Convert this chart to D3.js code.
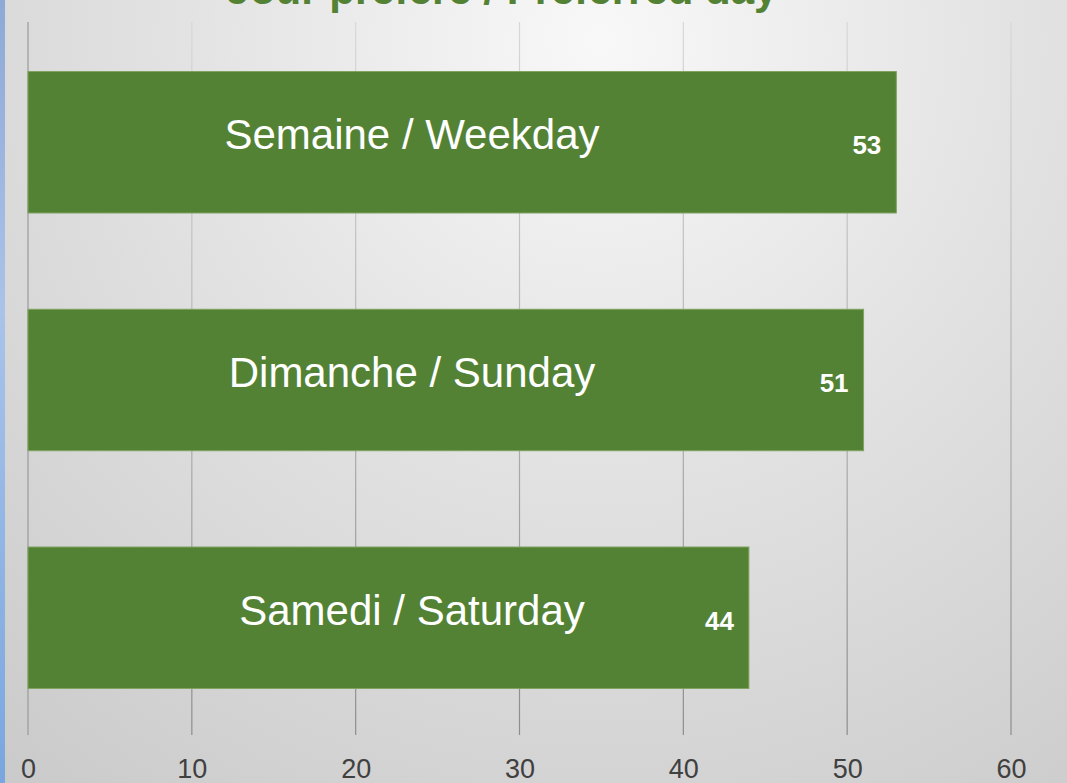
<!DOCTYPE html>
<html>
<head>
<meta charset="utf-8">
<script src="https://cdn.jsdelivr.net/npm/d3@7"></script>
<style>
  html, body { margin: 0; padding: 0; overflow: hidden; }
  #chart { width: 1067px; height: 783px; }
  text { font-family: "Liberation Sans", Arial, sans-serif; }
</style>
</head>
<body>
<div id="chart"></div>
<script>
var categories = ["Semaine / Weekday", "Dimanche / Sunday", "Samedi / Saturday"];
var values = [53, 51, 44];
var tickValues = [0, 10, 20, 30, 40, 50, 60];
var title = "Jour préféré / Preferred day";

var width = 1067, height = 783;
var green = "#548235";

var svg = d3.select("#chart").append("svg")
    .attr("width", width)
    .attr("height", height);

var defs = svg.append("defs");

// soft radial background, lighter near the top
var bg = defs.append("radialGradient")
    .attr("id", "bg")
    .attr("gradientUnits", "userSpaceOnUse")
    .attr("cx", 600).attr("cy", 40).attr("r", 950);
bg.append("stop").attr("offset", "0%").attr("stop-color", "#f8f8f8");
bg.append("stop").attr("offset", "45%").attr("stop-color", "#e2e2e2");
bg.append("stop").attr("offset", "100%").attr("stop-color", "#cacaca");

var strip = defs.append("linearGradient")
    .attr("id", "strip")
    .attr("x1", 0).attr("y1", 0).attr("x2", 0).attr("y2", 1);
strip.append("stop").attr("offset", "0%").attr("stop-color", "#8fa9d6");
strip.append("stop").attr("offset", "40%").attr("stop-color", "#a9c3ea");
strip.append("stop").attr("offset", "100%").attr("stop-color", "#79a6e0");

var gridGrad = defs.append("linearGradient")
    .attr("id", "grid")
    .attr("gradientUnits", "userSpaceOnUse")
    .attr("x1", 0).attr("y1", 20).attr("x2", 0).attr("y2", 740);
gridGrad.append("stop").attr("offset", "0%").attr("stop-color", "#d8d8d8");
gridGrad.append("stop").attr("offset", "100%").attr("stop-color", "#8c8c8c");

svg.append("rect")
    .attr("width", width).attr("height", height)
    .attr("fill", "url(#bg)");

svg.append("rect")
    .attr("width", 5).attr("height", height)
    .attr("fill", "url(#strip)");

var x = d3.scaleLinear().domain([0, 60]).range([28, 1011]);
var y = d3.scaleBand()
    .domain(categories)
    .range([24, 736])
    .paddingInner(0.405)
    .paddingOuter(0.2);

// gridlines
svg.append("g").selectAll("line")
    .data(tickValues)
    .enter().append("line")
    .attr("x1", function(d) { return x(d); })
    .attr("x2", function(d) { return x(d); })
    .attr("y1", 22)
    .attr("y2", 735)
    .attr("stroke", function(d) { return d === 0 ? "#9a9a9a" : "url(#grid)"; })
    .attr("stroke-width", 1.2);

// tick labels via axis
var axis = svg.append("g")
    .attr("transform", "translate(0,778)")
    .call(d3.axisBottom(x).tickValues(tickValues).tickSize(0).tickPadding(0));
axis.select(".domain").remove();
axis.selectAll("text")
    .attr("dy", null)
    .attr("y", 0)
    .attr("fill", "#404040")
    .style("font-size", "27px")
    .style("font-family", "'Liberation Sans', Arial, sans-serif");

// bars
var bars = svg.append("g").selectAll("g")
    .data(categories)
    .enter().append("g");

bars.append("rect")
    .attr("x", x(0))
    .attr("y", function(d) { return y(d); })
    .attr("width", function(d, i) { return x(values[i]) - x(0); })
    .attr("height", y.bandwidth())
    .attr("fill", green)
    .attr("stroke", "#7fa35f")
    .attr("stroke-width", 1);

bars.append("text")
    .attr("x", 412)
    .attr("y", function(d) { return y(d) + y.bandwidth() / 2 + 7; })
    .attr("text-anchor", "middle")
    .attr("fill", "#ffffff")
    .style("font-size", "42px")
    .text(function(d) { return d; });

bars.append("text")
    .attr("x", function(d, i) { return x(values[i]) - 15; })
    .attr("y", function(d) { return y(d) + y.bandwidth() / 2 + 12; })
    .attr("text-anchor", "end")
    .attr("fill", "#ffffff")
    .style("font-size", "26px")
    .style("font-weight", "bold")
    .text(function(d, i) { return values[i]; });

// title, cut off at the top
svg.append("text")
    .attr("x", 502)
    .attr("y", 4)
    .attr("text-anchor", "middle")
    .attr("fill", green)
    .style("font-size", "42px")
    .style("font-weight", "bold")
    .text(title);
</script>
</body>
</html>
